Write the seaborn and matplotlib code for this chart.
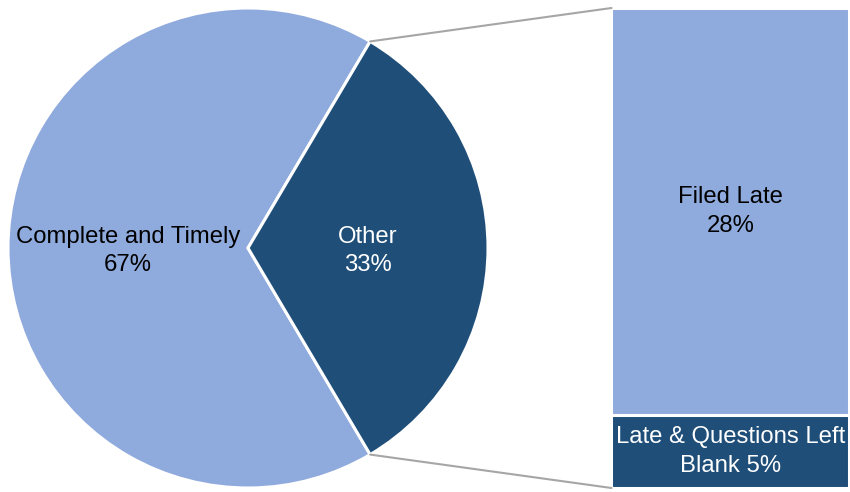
import matplotlib
matplotlib.use("Agg")
import matplotlib.pyplot as plt
import seaborn as sns
import numpy as np

# Data
categories = ["Complete and Timely", "Other"]
values = [67, 33]
sub_categories = ["Filed Late", "Late & Questions Left Blank"]
sub_values = [28, 5]
sub_labels = ["Filed Late\n28%", "Late & Questions Left\nBlank 5%"]

sns.set_theme(style="white")
plt.rcParams['font.family'] = ['Liberation Sans', 'DejaVu Sans']

light = "#8FAADC"
dark = "#1F4E79"
FS = 17.2
LS = 1.38

fig = plt.figure(figsize=(8.5, 4.92), dpi=100)
ax = fig.add_axes([0, 0, 1, 1])

cx, cy, R = 248, 244, 240
other_frac = values[1] / sum(values)
half = other_frac * 360 / 2

pie_labels = [f"{c}\n{v}%" for c, v in zip(categories, values)]
wedges, texts = ax.pie(values, center=(cx, cy), radius=R, startangle=half,
                       counterclock=True, colors=[light, dark],
                       labels=pie_labels, labeldistance=0.5,
                       wedgeprops=dict(edgecolor="white", linewidth=2.2),
                       textprops=dict(ha="center", va="center", fontsize=FS,
                                      linespacing=LS))
texts[0].set_color("black")
texts[1].set_color("white")
for t in texts:
    x, y = t.get_position()
    t.set_position((x, y - 3))

# Bar of sub-breakdown
bar_x = 730.5
bar_w = 238
total_h = 480
scale = total_h / sum(sub_values)
bottom = 4
bottoms = [bottom + sub_values[1] * scale, bottom]
heights = [sub_values[0] * scale, sub_values[1] * scale]
cols = [light, dark]
txt_cols = ["black", "white"]
for h, b, c, lab, tc in zip(heights, bottoms, cols, sub_labels, txt_cols):
    ax.bar(bar_x, h, bottom=b, width=bar_w, color=c, edgecolor="white",
           linewidth=2.2)
    ax.text(bar_x, b + h / 2, lab, ha="center", va="center", fontsize=FS,
            color=tc, linespacing=LS)

# Connector lines
ang = np.deg2rad(half)
px, py_top = cx + R * np.cos(ang), cy + R * np.sin(ang)
py_bot = cy - R * np.sin(ang)
left = bar_x - bar_w / 2
ax.plot([px, left], [py_top, bottom + total_h], color="#A6A6A6", lw=1.5)
ax.plot([px, left], [py_bot, bottom], color="#A6A6A6", lw=1.5)

ax.set_xlim(0, 850)
ax.set_ylim(0, 492)
ax.set_aspect("equal")
ax.axis("off")

fig.savefig("out.png", dpi=100)
